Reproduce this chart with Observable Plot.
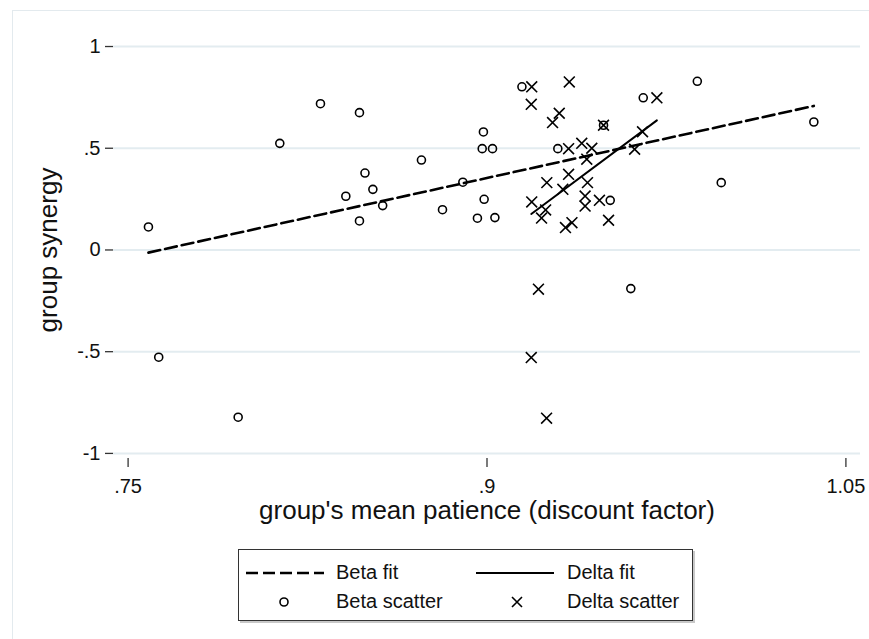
<!DOCTYPE html>
<html><head><meta charset="utf-8">
<script src="https://cdn.jsdelivr.net/npm/d3@7"></script>
<script src="https://cdn.jsdelivr.net/npm/@observablehq/plot@0.6"></script>
<style>
body{margin:0;background:#fff;font-family:"Liberation Sans",Arial,sans-serif;color:#111;}
#wrap{position:relative;width:869px;height:639px;overflow:hidden;background:#fff;}
#frame{position:absolute;left:12px;top:10px;width:900px;height:700px;border-left:1px solid #e3eaee;border-top:1px solid #e3eaee;box-sizing:border-box;}
#chart{position:absolute;left:0;top:0;}
#legend{position:absolute;left:238px;top:549px;width:453px;height:70px;border:1px solid #333;box-shadow:2px 2px 0 #c8c8c8;background:#fff;}
.lg{position:absolute;font-size:20px;line-height:20px;white-space:nowrap;}
.sw{position:absolute;}
</style></head><body>
<div id="wrap"><div id="frame"></div><div id="chart"></div>
<div id="legend"></div></div>
<script>
// tick values and labels
const xTicks = [0.75, 0.9, 1.05];
const xTickLabels = [".75", ".9", "1.05"];
const yTicks = [-1, -0.5, 0, 0.5, 1];
const yTickLabels = ["-1", "-.5", "0", ".5", "1"];
const xTitle = "group's mean patience (discount factor)";
const yTitle = "group synergy";

// Beta scatter (circles)
const betaX = [0.7585, 0.7628, 0.7960, 0.8134, 0.8304, 0.8467, 0.8410, 0.8467, 0.8490, 0.8523,
               0.8564, 0.8726, 0.8814, 0.8899, 0.8985, 0.8980, 0.9023, 0.8988, 0.8960, 0.9033,
               0.9146, 0.9653, 0.9487, 0.9296, 0.9515, 0.9601, 0.9879, 1.0366, 0.9979];
const betaY = [0.113, -0.527, -0.822, 0.524, 0.719, 0.675, 0.264, 0.1425, 0.378, 0.298,
               0.218, 0.442, 0.198, 0.333, 0.580, 0.498, 0.498, 0.249, 0.156, 0.159,
               0.802, 0.748, 0.613, 0.498, 0.244, -0.190, 0.829, 0.629, 0.331];

// Delta scatter (crosses)
const deltaX = [0.9187, 0.9344, 0.9185, 0.9302, 0.9274, 0.9710, 0.9487, 0.9341, 0.9396, 0.9438,
                0.9417, 0.9650, 0.9617, 0.9341, 0.9250, 0.9317, 0.9420, 0.9187, 0.9410, 0.9470,
                0.9410, 0.9245, 0.9228, 0.9328, 0.9355, 0.9508, 0.9215, 0.9185, 0.9249];
const deltaY = [0.802, 0.826, 0.716, 0.672, 0.626, 0.748, 0.613, 0.498, 0.524, 0.500,
                0.446, 0.581, 0.495, 0.372, 0.331, 0.298, 0.331, 0.236, 0.265, 0.244,
                0.216, 0.197, 0.157, 0.110, 0.134, 0.146, -0.193, -0.529, -0.827];

// Fitted lines (endpoints)
const betaFitX = [0.7585, 1.0366];
const betaFitY = [-0.013, 0.708];
const deltaFitX = [0.9185, 0.9710];
const deltaFitY = [0.177, 0.637];

const beta = betaX.map((x, i) => ({x, y: betaY[i]}));
const delta = deltaX.map((x, i) => ({x, y: deltaY[i]}));
const betaFit = betaFitX.map((x, i) => ({x, y: betaFitY[i]}));
const deltaFit = deltaFitX.map((x, i) => ({x, y: deltaFitY[i]}));

const font = "'Liberation Sans', Arial, sans-serif";
const chart = Plot.plot({
  width: 869, height: 639,
  marginLeft: 113, marginRight: 9, marginTop: 33, marginBottom: 181,
  style: {fontFamily: font, background: "transparent", color: "#111"},
  x: {domain: [0.7439, 1.0561]},
  y: {domain: [-1.025, 1.064]},
  marks: [
    Plot.gridY(yTicks, {stroke: "#e3ecf0", strokeOpacity: 1, strokeWidth: 2}),
    Plot.axisY(yTicks, {tickFormat: d => yTickLabels[yTicks.indexOf(d)], tickSize: 8, tickPadding: 5,
      fontSize: 20, label: null, line: true, stroke: "#333", strokeWidth: 1.3}),
    Plot.axisX(xTicks, {tickFormat: d => xTickLabels[xTicks.indexOf(d)], tickSize: 9, tickPadding: 11,
      fontSize: 20, label: null, line: true, stroke: "#333", strokeWidth: 1.3}),
    Plot.line(betaFit, {x: "x", y: "y", stroke: "#000", strokeWidth: 2.6, strokeDasharray: "12,5"}),
    Plot.line(deltaFit, {x: "x", y: "y", stroke: "#000", strokeWidth: 2}),
    Plot.dot(beta, {x: "x", y: "y", r: 4, stroke: "#000", strokeWidth: 1.6, fill: "none"}),
    Plot.dot(delta, {x: "x", y: "y", symbol: "times", r: 5, stroke: "#000", strokeWidth: 1.6}),
    Plot.text([xTitle], {frameAnchor: "bottom", dy: 60, fontSize: 26, fill: "#111"}),
    Plot.text([yTitle], {frameAnchor: "left", textAnchor: "middle", dx: -65, dy: 4, rotate: -90, fontSize: 26, fill: "#111"})
  ]
});
document.getElementById("chart").appendChild(chart);

// Legend
const legendItems = [
  {label: "Beta fit", kind: "dash", sx: 7, tx: 97, row: 0},
  {label: "Delta fit", kind: "solid", sx: 237, tx: 328, row: 0},
  {label: "Beta scatter", kind: "circle", sx: 7, tx: 97, row: 1},
  {label: "Delta scatter", kind: "times", sx: 237, tx: 328, row: 1}
];
const lg = document.getElementById("legend");
legendItems.forEach(it => {
  const cy = it.row === 0 ? 23 : 52;
  const sw = document.createElementNS("http://www.w3.org/2000/svg", "svg");
  sw.setAttribute("width", 80); sw.setAttribute("height", 20);
  sw.setAttribute("class", "sw");
  sw.style.left = it.sx + "px"; sw.style.top = (cy - 10) + "px";
  let inner = "";
  if (it.kind === "dash") inner = '<line x1="0" y1="10" x2="78" y2="10" stroke="#000" stroke-width="2.6" stroke-dasharray="12,5"/>';
  if (it.kind === "solid") inner = '<line x1="0" y1="10" x2="78" y2="10" stroke="#000" stroke-width="2"/>';
  if (it.kind === "circle") inner = '<circle cx="38" cy="10" r="4" fill="none" stroke="#000" stroke-width="1.6"/>';
  if (it.kind === "times") inner = '<path d="M36,5L46,15M46,5L36,15" stroke="#000" stroke-width="1.6"/>';
  sw.innerHTML = inner;
  lg.appendChild(sw);
  const t = document.createElement("div");
  t.className = "lg"; t.textContent = it.label;
  t.style.left = it.tx + "px"; t.style.top = (cy - 11) + "px";
  lg.appendChild(t);
});
</script>
</body></html>
